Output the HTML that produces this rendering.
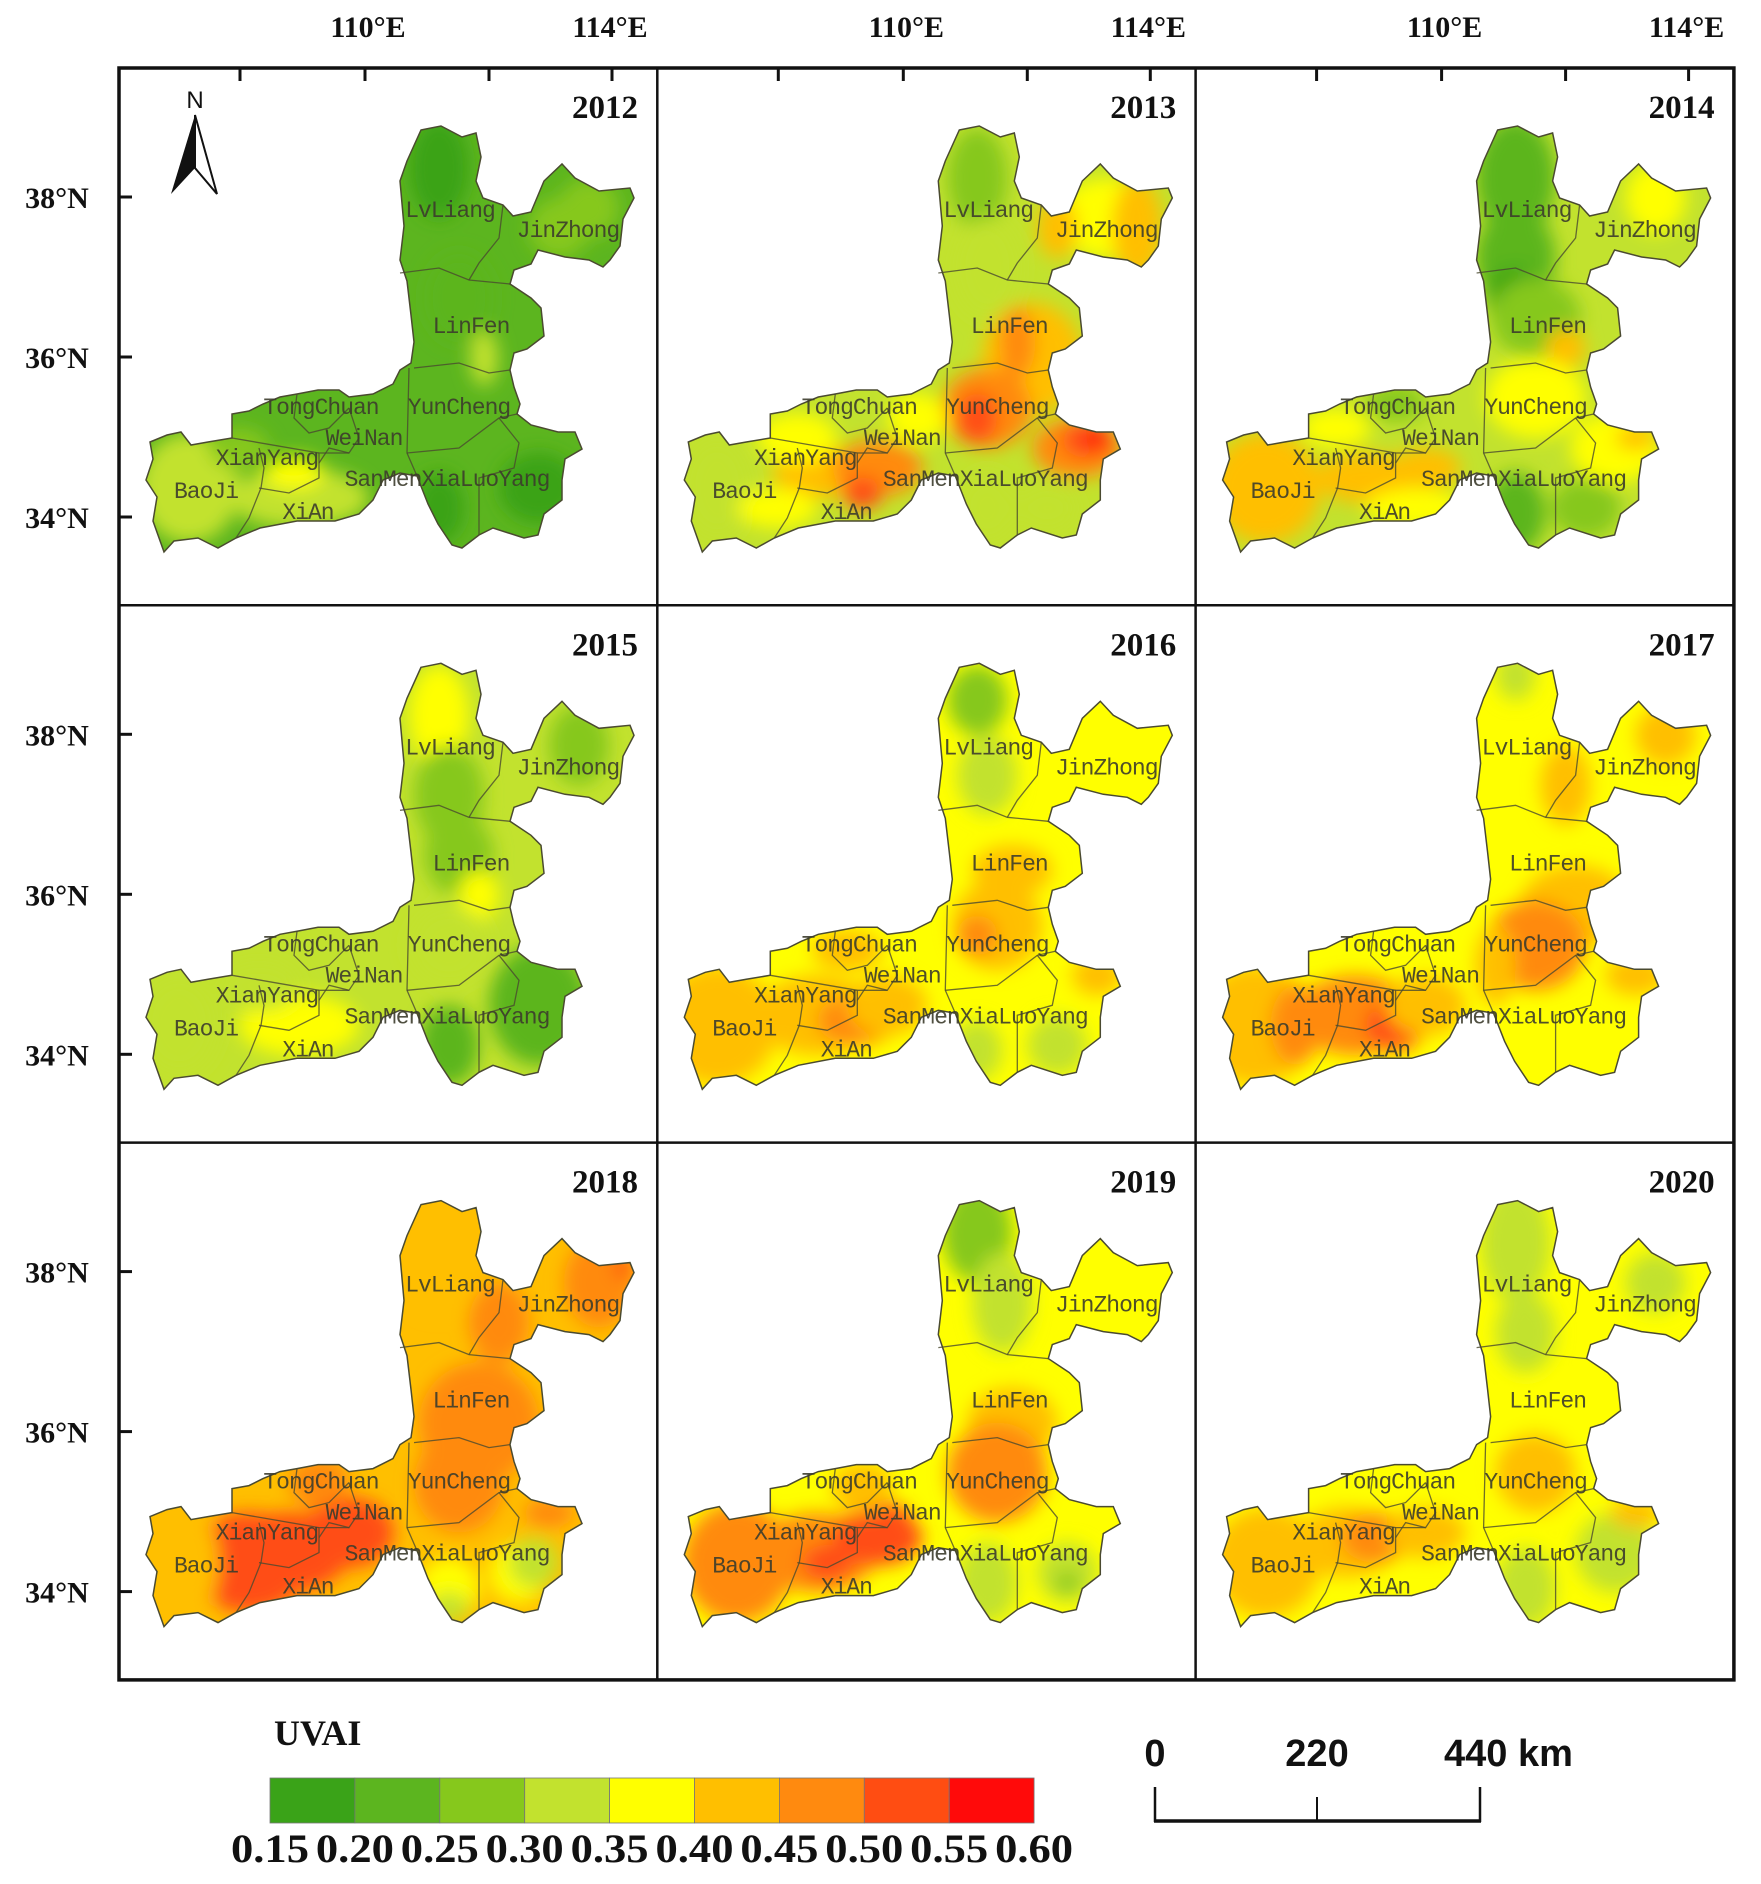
<!DOCTYPE html>
<html><head><meta charset="utf-8"><style>
html,body{margin:0;padding:0;background:#fff;}
svg{display:block;}
</style></head><body>
<svg id="fig" xmlns="http://www.w3.org/2000/svg" width="1761" height="1884" viewBox="0 0 1761 1884">
<defs>
<filter id="blur" x="-20%" y="-20%" width="140%" height="140%"><feGaussianBlur stdDeviation="9"/></filter>
<clipPath id="regionClip" clipPathUnits="userSpaceOnUse"><polygon id="regionPoly" points=""/></clipPath>
</defs>
<rect x="0" y="0" width="1761" height="1884" fill="#fff"/>
<g id="panels"></g>
<g id="frame"></g>
<g id="legend"></g>
</svg>
<script>
// ---- data ----
const years = [2012,2013,2014,2015,2016,2017,2018,2019,2020];
const classBreaks = ["0.15","0.20","0.25","0.30","0.35","0.40","0.45","0.50","0.55","0.60"];
const classColors = ["#3aa318","#5cb51f","#86c81c","#c2e22e","#ffff00","#ffbf00","#ff8a0f","#ff4d12","#ff0a0a"];
// base class per year (dominant UVAI class index)
const baseClass = [1,3,3,3,4,4,5,4,4];
// blobs per year: [x, y, rx, ry, classIndex] in panel-local map coords
const blobs2012 = [[320,100,30,50,0],[340,230,35,45,1],[420,420,40,35,0],[320,440,25,35,0],[70,420,50,55,3],[180,430,70,30,3],[175,405,30,16,4],[365,290,14,28,3],[470,140,30,30,2],[120,380,30,20,2],[440,160,30,30,2]];
const blobs2013 = [[320,110,30,50,2],[330,200,35,50,3],[450,150,50,40,4],[480,160,25,50,5],[400,160,20,30,5],[375,290,50,55,5],[360,275,18,35,6],[330,340,45,40,6],[320,350,20,25,7],[420,380,45,30,6],[430,372,25,18,7],[440,370,12,10,8],[165,405,50,25,5],[220,400,45,28,6],[205,425,20,16,7],[140,370,40,25,4],[60,420,35,50,3],[330,440,30,35,3],[390,440,30,25,3],[120,440,40,20,4],[260,350,30,25,4]];
const blobs2014 = [[320,110,40,60,1],[320,190,40,50,1],[320,230,30,30,0],[340,250,45,40,2],[460,130,30,35,4],[370,280,20,20,5],[340,330,50,40,4],[420,380,45,35,4],[440,370,20,12,5],[70,420,55,55,5],[170,410,50,25,5],[230,400,35,20,5],[140,360,35,20,4],[220,440,50,20,4],[320,445,30,40,1],[390,440,35,30,2],[200,335,30,18,2]];
const blobs2015 = [[320,110,30,50,4],[330,190,35,50,2],[340,250,35,40,2],[360,290,20,25,4],[460,140,30,40,2],[330,340,40,40,3],[420,400,50,60,1],[330,440,30,40,1],[180,420,60,30,4],[60,420,40,50,3],[140,380,40,25,3]];
const blobs2016 = [[320,95,30,35,2],[330,170,30,40,3],[355,265,40,25,5],[340,320,45,45,5],[320,330,20,20,6],[60,420,60,60,5],[160,410,60,40,5],[200,415,40,25,6],[230,400,40,30,5],[320,445,25,30,3],[400,440,30,30,3],[440,370,25,20,5],[190,345,35,20,5]];
const blobs2017 = [[320,70,20,25,3],[370,180,25,40,5],[470,130,30,30,5],[380,300,55,40,5],[340,340,50,45,6],[60,420,60,60,5],[100,420,25,40,6],[160,410,60,40,6],[200,420,30,25,7],[230,400,40,30,5],[440,370,30,20,5],[300,360,20,40,5]];
const blobs2018 = [[320,100,50,70,5],[360,280,60,60,6],[380,180,30,40,6],[480,140,35,45,6],[505,125,10,10,7],[340,340,45,50,6],[130,420,60,50,7],[170,410,60,40,7],[230,390,45,35,7],[60,420,40,60,5],[330,445,30,30,4],[330,465,20,15,3],[400,430,30,30,4],[415,420,25,25,3],[430,370,25,15,6],[200,340,30,25,6]];
const blobs2019 = [[320,90,35,50,2],[345,160,30,50,3],[355,280,45,35,5],[340,330,50,50,6],[80,420,55,60,6],[160,410,60,40,6],[170,420,25,18,7],[220,395,45,28,7],[230,380,25,20,7],[330,440,30,40,3],[410,430,30,30,3],[410,440,12,10,2],[205,345,30,25,5]];
const blobs2020 = [[320,100,35,60,3],[330,190,30,40,3],[460,140,30,30,3],[350,270,35,30,4],[340,330,40,40,5],[70,420,55,55,5],[150,400,50,35,5],[180,395,35,25,6],[230,390,40,25,5],[330,445,30,40,3],[420,410,40,40,3],[440,370,25,15,5]];
const yearBlobs = [blobs2012,blobs2013,blobs2014,blobs2015,blobs2016,blobs2017,blobs2018,blobs2019,blobs2020];
const lonTicks = ["110°E","114°E"];
const latTicks = ["38°N","36°N","34°N"];
const scaleLabels = ["0","220","440 km"];
const regionNames = ["LvLiang","JinZhong","LinFen","YunCheng","TongChuan","WeiNan","XianYang","BaoJi","SanMenXiaLuoYang","XiAn"];
const regionLabelPos = [[331,141],[449,161],[352,257],[340,338],[202,338],[245,369],[148,389],[87,422],[328,410],[189,443]];

// ---- geometry ----
const NS='http://www.w3.org/2000/svg';
const frameX=119, frameY=68, panelW=538.3, panelH=537.3;
const outline=[[302,62],[322,58],[343,69],[357,65],[362,89],[357,113],[364,130],[384,137],[394,148],[412,144],[425,113],[443,96],[456,110],[480,123],[511,120],[515,130],[504,151],[501,178],[491,192],[484,199],[470,192],[446,189],[419,182],[412,196],[395,202],[391,216],[412,230],[422,240],[425,268],[408,281],[395,285],[391,302],[395,319],[401,336],[398,346],[412,357],[439,364],[456,364],[463,381],[446,391],[443,412],[443,432],[425,446],[419,467],[405,470],[374,460],[360,467],[343,480],[333,477],[319,456],[309,436],[298,408],[281,405],[264,412],[254,432],[240,446],[216,453],[178,453],[141,460],[117,470],[99,480],[79,470],[55,473],[45,484],[34,453],[38,429],[27,412],[34,391],[31,374],[48,367],[62,364],[72,377],[89,374],[113,370],[113,346],[130,343],[144,336],[161,329],[178,326],[199,322],[220,322],[230,329],[254,326],[274,316],[281,302],[292,295],[295,274],[292,247],[288,213],[281,192],[285,158],[281,113],[288,93]];
const borders=[[[281,205],[320,200],[350,212],[391,216]],[[384,137],[380,170],[360,195],[350,212]],[[295,300],[340,295],[370,305],[391,302]],[[288,385],[340,380],[380,350],[398,346]],[[380,350],[400,375],[395,400],[360,410],[360,467]],[[290,300],[288,385],[298,408]],[[178,326],[175,350],[190,365],[210,360],[230,340]],[[230,340],[240,370],[230,385],[210,380],[200,395]],[[140,380],[145,400],[142,420],[130,450],[117,470]],[[140,420],[170,425],[200,410],[200,385],[230,385]],[[200,385],[113,370]]];
document.getElementById('regionPoly').setAttribute('points', outline.map(p=>p.join(',')).join(' '));

function el(tag, attrs, parent){const e=document.createElementNS(NS,tag);for(const k in attrs)e.setAttribute(k,attrs[k]);if(parent)parent.appendChild(e);return e;}
const panels=document.getElementById('panels');
years.forEach((yr,i)=>{
  const col=i%3,row=Math.floor(i/3);
  const ox=frameX+col*panelW, oy=frameY+row*panelH;
  const g=el('g',{transform:`translate(${ox},${oy})`},panels);
  
  
  const cg=el('g',{'clip-path':'url(#regionClip)'},g);
  el('rect',{x:0,y:0,width:540,height:540,fill:classColors[baseClass[i]]},cg);
  const bg=el('g',{filter:'url(#blur)'},cg);
  yearBlobs[i].forEach(b=>{
    const c=el('ellipse',{cx:b[0],cy:b[1],rx:b[2],ry:b[3],fill:classColors[b[4]]},bg);
    
    
  });
  borders.forEach(bd=>{el('polyline',{points:bd.map(p=>p.join(',')).join(' '),fill:'none',stroke:'#4a4a30','stroke-width':1.3,opacity:0.8},g);});
  const ol=el('polygon',{points:outline.map(p=>p.join(',')).join(' '),fill:'none',stroke:'#4a4a30','stroke-width':1.5},g);
  
  
  regionNames.forEach((n,j)=>{
    const t=el('text',{x:regionLabelPos[j][0],y:regionLabelPos[j][1]+8,'text-anchor':'middle','font-family':'Liberation Mono, monospace','font-size':23,fill:'#3c3c2c','fill-opacity':0.9,'letter-spacing':-1},g);
    t.textContent=n;
    
    
  });
  const yt=el('text',{x:519,y:50,'text-anchor':'end','font-family':'Liberation Serif, serif','font-weight':'bold','font-size':33,fill:'#111'},g);
  yt.textContent=String(yr);
  
  
  if(row===0){[121,246,370,493].forEach(x=>el('line',{x1:x,y1:0,x2:x,y2:13,stroke:'#111','stroke-width':3},g));}
  if(col===0){[129,289,449].forEach(y=>el('line',{x1:0,y1:y,x2:13,y2:y,stroke:'#111','stroke-width':3},g));}
});
// north arrow
const na=el('g',{transform:`translate(${frameX},${frameY})`},panels);


el('polygon',{points:'76,47 52,126 76,100',fill:'#111'},na);
el('polygon',{points:'76,47 98,126 76,100',fill:'#fff',stroke:'#111','stroke-width':2},na);
const nt=el('text',{x:76,y:40,'text-anchor':'middle','font-family':'Liberation Sans, sans-serif','font-size':24,fill:'#111'},na);
nt.textContent='N';

// frame
const fr=document.getElementById('frame');
const outer=el('rect',{x:frameX,y:frameY,width:panelW*3,height:panelH*3,fill:'none',stroke:'#111','stroke-width':3.5},fr);


for(let k=1;k<3;k++){
  el('line',{x1:frameX+k*panelW,y1:frameY,x2:frameX+k*panelW,y2:frameY+panelH*3,stroke:'#111','stroke-width':2.5},fr);
  el('line',{x1:frameX,y1:frameY+k*panelH,x2:frameX+panelW*3,y2:frameY+k*panelH,stroke:'#111','stroke-width':2.5},fr);
}
for(let c=0;c<3;c++){
  [249,491].forEach((dx,j)=>{
    const t=el('text',{x:frameX+c*panelW+dx,y:37,'text-anchor':'middle','font-family':'Liberation Serif, serif','font-weight':'bold','font-size':30,fill:'#111'},fr);
    t.textContent=lonTicks[j];
    
    
  });
}
for(let r=0;r<3;r++){
  [129,289,449].forEach((dy,j)=>{
    const t=el('text',{x:57,y:frameY+r*panelH+dy+11,'text-anchor':'middle','font-family':'Liberation Serif, serif','font-weight':'bold','font-size':30,fill:'#111'},fr);
    t.textContent=latTicks[j];
    
    
  });
}

// legend
const lg=document.getElementById('legend');
const ttl=el('text',{x:274,y:1745,'font-family':'Liberation Serif, serif','font-weight':'bold','font-size':36,fill:'#111'},lg);
ttl.textContent='UVAI';


const lx0=270, lw=84.9;
classColors.forEach((c,k)=>{
  const r=el('rect',{x:lx0+k*lw,y:1778,width:lw,height:45,fill:c,stroke:'#777','stroke-width':0.8},lg);
  
  
});
classBreaks.forEach((b,k)=>{
  const t=el('text',{x:lx0+k*lw,y:1862,'text-anchor':'middle','font-family':'Liberation Serif, serif','font-weight':'bold','font-size':40,textLength:78,lengthAdjust:'spacingAndGlyphs',fill:'#111'},lg);
  t.textContent=b;
  
  
});
// scale bar
const sb=el('g',{},lg);


el('line',{x1:1155,y1:1787,x2:1155,y2:1822,stroke:'#111','stroke-width':2.5},sb);
el('line',{x1:1317,y1:1797,x2:1317,y2:1822,stroke:'#111','stroke-width':2},sb);
el('line',{x1:1480,y1:1787,x2:1480,y2:1822,stroke:'#111','stroke-width':2.5},sb);
el('line',{x1:1154,y1:1821,x2:1481,y2:1821,stroke:'#111','stroke-width':3.5},sb);
[[1155,'middle'],[1317,'middle'],[1444,'start']].forEach((p,k)=>{
  const t=el('text',{x:p[0],y:1766,'text-anchor':p[1],'font-family':'Liberation Sans, sans-serif','font-weight':'bold','font-size':38,fill:'#111'},sb);
  t.textContent=scaleLabels[k];
  
  
});
</script>
</body></html>
